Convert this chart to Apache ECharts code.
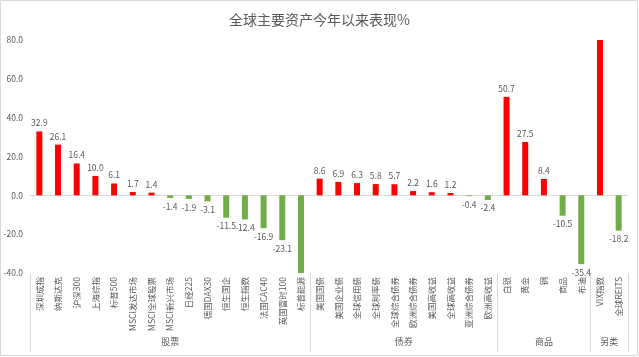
<!DOCTYPE html>
<html>
<head>
<meta charset="utf-8">
<script src="https://cdn.jsdelivr.net/npm/echarts@6/dist/echarts.min.js"></script>
<style>
html,body{margin:0;padding:0;background:#fff;}
#c{width:639px;height:357px;}
</style>
</head>
<body>
<div id="c"></div>
<script>
// ---- data ----
var categories = [
  '深圳成指','纳斯达克','沪深300','上海综指','标普500','MSCI发达市场','MSCI全球股票','MSCI新兴市场','日经225','德国DAX30','恒生国企','恒生指数','法国CAC40','英国富时100','标普能源',
  '美国国债','美国企业债','全球信用债','全球利率债','全球综合债券','欧洲综合债券','美国高收益','全球高收益','亚洲综合债券','欧洲高收益',
  '白银','黄金','铜','商品','布油',
  'VIX指数','全球REITS'
];
var values = [
  32.9, 26.1, 16.4, 10.0, 6.1, 1.7, 1.4, -1.4, -1.9, -3.1, -11.5, -12.4, -16.9, -23.1, -40.0,
  8.6, 6.9, 6.3, 5.8, 5.7, 2.2, 1.6, 1.2, -0.4, -2.4,
  50.7, 27.5, 8.4, -10.5, -35.4,
  80.0, -18.2
];
// bars that run off the axis range in the reference (no data label shown)
var clippedCategories = ['标普能源', 'VIX指数'];
var groupNames = ['股票', '债券', '商品', '另类'];
var groupSizes = [15, 10, 5, 2];
var yTicks = { min: -40, max: 80, interval: 20 };
var titleText = '全球主要资产今年以来表现%';

// ---- derived ----
var groupBounds = [0];
var groupCenters = [];
(function () {
  var acc = 0;
  groupSizes.forEach(function (s) {
    groupCenters.push(acc + s / 2);
    acc += s;
    groupBounds.push(acc);
  });
})();
var centerToName = {};
groupCenters.forEach(function (c, i) { centerToName[c] = groupNames[i]; });

var RED = '#FF0000', GREEN = '#70AD47', TXT = '#595959', LINE = '#D9D9D9';
var FONT = '"Noto Sans CJK SC", "Noto Sans", sans-serif';

var barData = values.map(function (v, i) {
  var item = {
    value: v,
    itemStyle: { color: v >= 0 ? RED : GREEN },
    label: { position: v >= 0 ? 'top' : 'bottom' }
  };
  if (clippedCategories.indexOf(categories[i]) >= 0) item.label.show = false;
  return item;
});

var chart = echarts.init(document.getElementById('c'), null, { renderer: 'canvas' });
chart.setOption({
  backgroundColor: '#fff',
  animation: false,
  textStyle: { fontFamily: FONT },
  title: {
    text: titleText,
    left: 'center',
    top: 8,
    textStyle: { fontSize: 14, fontWeight: 'normal', color: TXT, fontFamily: FONT }
  },
  graphic: [{
    type: 'rect',
    shape: { x: 0.5, y: 0.5, width: 637, height: 355 },
    style: { fill: 'none', stroke: LINE, lineWidth: 1 },
    silent: true
  }],
  grid: { left: 30, right: 11, top: 40, bottom: 84, containLabel: false },
  xAxis: [
    {
      type: 'category',
      data: categories,
      position: 'bottom',
      axisLine: { show: true, onZero: true, lineStyle: { color: LINE, width: 1 } },
      axisTick: { show: false },
      axisLabel: { show: false },
      splitLine: { show: false }
    },
    {
      type: 'category',
      data: categories,
      position: 'bottom',
      axisLine: { show: false, onZero: false },
      axisTick: { show: false },
      axisLabel: {
        show: true, interval: 0, rotate: 90, margin: 4,
        fontSize: 8.5, color: TXT, fontFamily: FONT
      },
      splitLine: { show: false }
    },
    {
      type: 'value',
      min: 0,
      max: categories.length,
      position: 'bottom',
      axisLine: { show: false, onZero: false },
      axisTick: {
        show: true, customValues: groupBounds, length: 79, inside: false,
        lineStyle: { color: LINE, width: 1 }
      },
      axisLabel: {
        show: true, customValues: groupCenters, margin: 64,
        fontSize: 9, color: TXT, fontFamily: FONT,
        formatter: function (v) { return centerToName[v] || ''; }
      },
      splitLine: { show: false }
    }
  ],
  yAxis: {
    type: 'value',
    min: yTicks.min,
    max: yTicks.max,
    interval: yTicks.interval,
    axisLine: { show: false },
    axisTick: { show: false },
    splitLine: { show: false },
    axisLabel: {
      margin: 7, fontSize: 8.5, color: TXT, fontFamily: FONT,
      formatter: function (v) { return v.toFixed(1); }
    }
  },
  series: [{
    type: 'bar',
    xAxisIndex: 0,
    data: barData,
    barWidth: 6,
    label: {
      show: true, distance: 4, fontSize: 8.5, color: TXT, fontFamily: FONT,
      formatter: function (p) { return p.value.toFixed(1); }
    }
  }]
});
</script>
</body>
</html>
